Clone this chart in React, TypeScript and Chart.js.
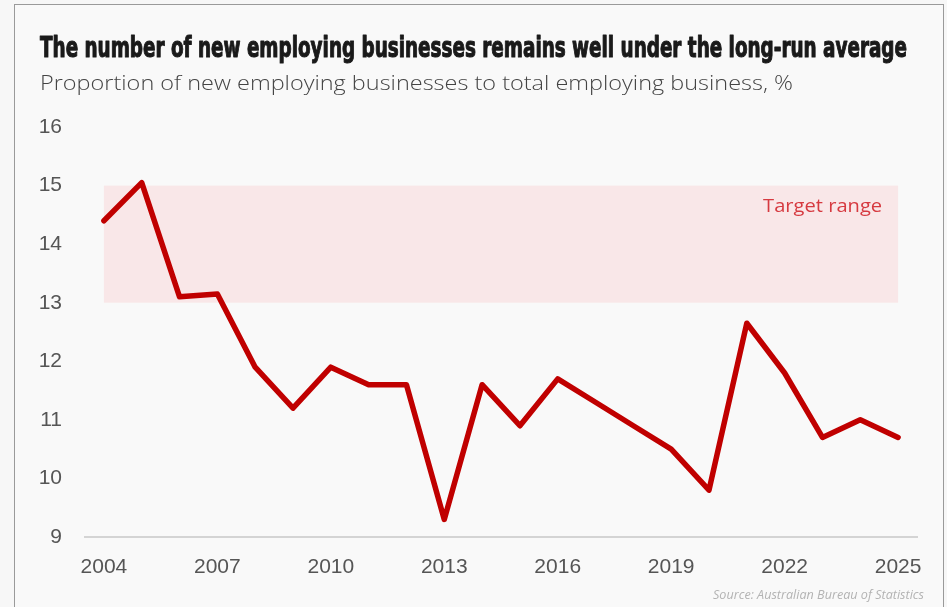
import React, { useEffect, useRef } from "react";
import { Chart, registerables } from "chart.js";

Chart.register(...registerables);

const years: number[] = [
  2004, 2005, 2006, 2007, 2008, 2009, 2010, 2011, 2012, 2013, 2014,
  2015, 2016, 2017, 2018, 2019, 2020, 2021, 2022, 2023, 2024, 2025,
];
const newBusinessShare: number[] = [
  14.4, 15.05, 13.1, 13.15, 11.9, 11.2, 11.9, 11.6, 11.6, 9.3, 11.6,
  10.9, 11.7, 11.3, 10.9, 10.5, 9.8, 12.65, 11.8, 10.7, 11.0, 10.7,
];
const targetRange: number[] = [13, 15];
const yTicks: number[] = [9, 10, 11, 12, 13, 14, 15, 16];

const titleText = "The number of new employing businesses remains well under the long-run average";
const subtitleText = "Proportion of new employing businesses to total employing business, %";
const bandLabel = "Target range";
const sourceText = "Source: Australian Bureau of Statistics";

function fitText(
  ctx: CanvasRenderingContext2D,
  text: string,
  font: string,
  color: string,
  x: number,
  y: number,
  width: number,
  align: "left" | "right",
  stroke = 0
) {
  ctx.save();
  ctx.font = font;
  ctx.fillStyle = color;
  ctx.textBaseline = "alphabetic";
  ctx.textAlign = "left";
  const w = ctx.measureText(text).width;
  const sx = width / w;
  const left = align === "left" ? x : x - width;
  ctx.translate(left, y);
  ctx.scale(sx, 1);
  ctx.fillText(text, 0, 0);
  if (stroke > 0) {
    ctx.strokeStyle = color;
    ctx.lineWidth = stroke;
    ctx.lineJoin = "round";
    ctx.strokeText(text, 0, 0);
  }
  ctx.restore();
}

const decorPlugin = {
  id: "decor",
  beforeDatasetsDraw(chart: any) {
    const { ctx, scales } = chart;
    const xs = scales.x;
    const ys = scales.y;
    const x0 = xs.getPixelForValue(0);
    const x1 = xs.getPixelForValue(years.length - 1);
    const yTop = ys.getPixelForValue(targetRange[1]);
    const yBot = ys.getPixelForValue(targetRange[0]);
    ctx.save();
    ctx.fillStyle = "#f9e7e8";
    ctx.fillRect(x0, yTop, x1 - x0, yBot - yTop);
    ctx.restore();
    fitText(ctx, bandLabel, "400 19px 'Open Sans', sans-serif", "#d63a40", x1 - 16, yTop + 26, 119, "right");
  },
  afterDraw(chart: any) {
    const { ctx } = chart;
    fitText(ctx, titleText, "bold 29px 'Liberation Sans Narrow', 'DejaVu Sans Condensed', 'Roboto', sans-serif", "#1a1a1a", 40, 57, 867, "left", 1.1);
    fitText(ctx, subtitleText, "300 20px 'Open Sans', sans-serif", "#444444", 40, 90, 753, "left");
    fitText(ctx, sourceText, "italic 12.5px 'Open Sans', sans-serif", "#b3b3b3", 924, 599, 211, "right");
  },
};

export default function App() {
  const ref = useRef<HTMLCanvasElement | null>(null);
  useEffect(() => {
    if (!ref.current) return;
    const chart = new Chart(ref.current, {
      type: "line",
      data: {
        labels: years.map(String),
        datasets: [
          {
            data: newBusinessShare,
            borderColor: "#c00000",
            borderWidth: 5.5,
            pointRadius: 0,
            borderJoinStyle: "round",
            borderCapStyle: "round",
            tension: 0,
            fill: false,
          },
        ],
      },
      options: {
        animation: false,
        responsive: false,
        devicePixelRatio: 1,
        layout: { padding: { top: 127, right: 30, left: 0, bottom: 0 } },
        plugins: {
          legend: { display: false },
          title: { display: false },
          tooltip: { enabled: false },
        },
        scales: {
          x: {
            type: "category",
            offset: true,
            grid: { display: false, drawTicks: false },
            border: { display: true, color: "#d4d4d4", width: 2 },
            ticks: {
              autoSkip: false,
              maxRotation: 0,
              padding: 18,
              color: "#555555",
              font: { family: "'Liberation Sans', Arial, sans-serif", size: 21 },
              callback: function (this: any, value: any, index: number) {
                return index % 3 === 0 ? String(years[index]) : "";
              },
            },
            afterFit: (scale: any) => {
              scale.height = 70;
            },
          },
          y: {
            min: yTicks[0],
            max: yTicks[yTicks.length - 1],
            grid: { display: false, drawTicks: false },
            border: { display: false },
            afterBuildTicks: (scale: any) => {
              scale.ticks = yTicks.map((v) => ({ value: v }));
            },
            ticks: {
              padding: 23,
              color: "#555555",
              font: { family: "'Liberation Sans', Arial, sans-serif", size: 21 },
            },
            afterFit: (scale: any) => {
              scale.width = 85;
            },
          },
        },
      },
      plugins: [decorPlugin],
    });
    return () => chart.destroy();
  }, []);

  return (
    <div
      style={{
        position: "fixed",
        left: 0,
        top: 0,
        width: 947,
        height: 607,
        background: "#f7f7f7",
        overflow: "hidden",
      }}
    >
      <div
        style={{
          position: "absolute",
          left: 14,
          top: 4,
          width: 928,
          height: 640,
          border: "1px solid #9a9a9a",
          background: "#f9f9f9",
        }}
      />
      <canvas
        ref={ref}
        width={947}
        height={607}
        style={{ position: "absolute", left: 0, top: 0, width: 947, height: 607 }}
      />
    </div>
  );
}
